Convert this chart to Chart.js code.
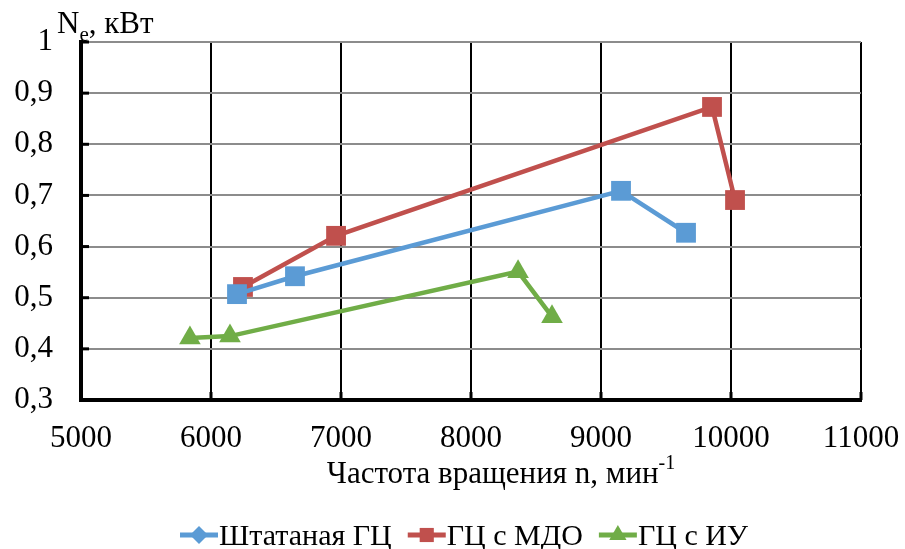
<!DOCTYPE html>
<html>
<head>
<meta charset="utf-8">
<script src="https://cdn.jsdelivr.net/npm/chart.js@4/dist/chart.umd.min.js"></script>
<style>
  html, body { margin: 0; padding: 0; background: #fff; }
  canvas { display: block; }
  .precarga { font-family: "Liberation Serif"; position: absolute; left: -9999px; top: 0; }
</style>
</head>
<body>
<span class="precarga">Частота 0,5</span>
<canvas id="grafica" width="905" height="549"></canvas>
<script>
// частота вращения, мин-1 и мощность, кВт
const nShtatnaya = [6200, 6646, 9154, 9654];
const neShtatnaya = [0.507, 0.542, 0.709, 0.627];

const nMdo = [6246, 6962, 9854, 10031];
const neMdo = [0.521, 0.621, 0.873, 0.691];

const nIu = [5838, 6146, 8362, 8623];
const neIu = [0.421, 0.425, 0.551, 0.463];

const nombres = ['Штатаная ГЦ', 'ГЦ с МДО', 'ГЦ с ИУ'];
const colores = ['#5B9BD5', '#C0504D', '#70AD47'];
const marcadores = ['rect', 'rect', 'triangle'];
const marcadoresLeyenda = ['rectRot', 'rect', 'triangle'];

const FUENTE = '"Liberation Serif", "DejaVu Serif", "Times New Roman", serif';

const puntos = (xs, ys) => xs.map((x, i) => ({ x: x, y: ys[i] }));

const serie = (i, xs, ys) => ({
    label: nombres[i],
    data: puntos(xs, ys),
    borderColor: colores[i],
    backgroundColor: colores[i],
    borderWidth: 4.5,
    pointStyle: marcadores[i],
    pointRadius: marcadores[i] === 'triangle' ? 12.5 : 14,
    pointBorderWidth: 0,
    pointHoverRadius: 14,
    tension: 0
});

// подписи осей с индексами
const titulosEjes = {
    id: 'titulosEjes',
    afterDraw(chart) {
        const ctx = chart.ctx;
        const area = chart.chartArea;
        ctx.save();
        ctx.fillStyle = '#000';
        ctx.textBaseline = 'alphabetic';
        ctx.textAlign = 'left';

        // N_e, кВт
        let x = 57;
        ctx.font = '31px ' + FUENTE;
        ctx.fillText('N', x, 33);
        x += ctx.measureText('N').width;
        ctx.font = '21px ' + FUENTE;
        ctx.fillText('e', x, 41);
        x += ctx.measureText('e').width;
        ctx.font = '31px ' + FUENTE;
        ctx.fillText(', кВт', x, 33);

        // Частота вращения n, мин^-1
        ctx.font = '31px ' + FUENTE;
        const base = 'Частота вращения n, мин';
        const wBase = ctx.measureText(base).width;
        ctx.font = '20px ' + FUENTE;
        const wSup = ctx.measureText('-1').width;
        let xt = 501 - (wBase + wSup) / 2;
        ctx.font = '31px ' + FUENTE;
        ctx.fillText(base, xt, 483);
        ctx.font = '20px ' + FUENTE;
        ctx.fillText('-1', xt + wBase, 469);

        // внутренние засечки на осях
        ctx.strokeStyle = '#000';
        ctx.lineWidth = 3;
        chart.scales.y.ticks.forEach(t => {
            const yy = chart.scales.y.getPixelForValue(t.value);
            ctx.beginPath();
            ctx.moveTo(area.left, yy);
            ctx.lineTo(area.left + 8, yy);
            ctx.stroke();
        });
        chart.scales.x.ticks.forEach(t => {
            const xx = chart.scales.x.getPixelForValue(t.value);
            ctx.beginPath();
            ctx.moveTo(xx, area.bottom);
            ctx.lineTo(xx, area.bottom - 8);
            ctx.stroke();
        });
        ctx.restore();
    }
};

// легенда: линия с маркером и подпись
const leyenda = {
    id: 'leyenda',
    afterDraw(chart) {
        const ctx = chart.ctx;
        ctx.save();
        ctx.font = '30px ' + FUENTE;
        ctx.textBaseline = 'alphabetic';
        ctx.textAlign = 'left';
        const yLinea = 535;
        let x = 180;
        chart.data.datasets.forEach((ds, i) => {
            ctx.strokeStyle = colores[i];
            ctx.lineWidth = 5;
            ctx.beginPath();
            ctx.moveTo(x, yLinea);
            ctx.lineTo(x + 38, yLinea);
            ctx.stroke();
            ctx.fillStyle = colores[i];
            Chart.helpers.drawPoint(ctx, {
                pointStyle: marcadoresLeyenda[i],
                radius: i === 0 ? 9 : 10,
                rotation: 0,
                borderWidth: 0
            }, x + 19, yLinea);
            ctx.fillStyle = '#000';
            ctx.fillText(ds.label, x + 39, 545);
            x += 39 + ctx.measureText(ds.label).width + 16;
        });
        ctx.restore();
    }
};

const crearGrafica = () => new Chart(document.getElementById('grafica'), {
    type: 'line',
    data: {
        datasets: [
            serie(0, nShtatnaya, neShtatnaya),
            serie(1, nMdo, neMdo),
            serie(2, nIu, neIu)
        ]
    },
    options: {
        responsive: false,
        animation: false,
        layout: { padding: { top: 42, right: 44, left: 0, bottom: 0 } },
        plugins: {
            legend: { display: false },
            tooltip: { enabled: false }
        },
        scales: {
            x: {
                type: 'linear',
                min: 5000,
                max: 11000,
                afterFit: s => { s.height = 149; s.paddingLeft = 0; s.paddingRight = 0; },
                ticks: {
                    stepSize: 1000,
                    color: '#000',
                    font: { family: FUENTE, size: 31 },
                    padding: 20,
                    maxRotation: 0,
                    callback: v => String(v)
                },
                grid: { color: '#000', lineWidth: 2, drawTicks: false },
                border: { color: '#000', width: 4 }
            },
            y: {
                min: 0.3,
                max: 1,
                afterFit: s => { s.width = 81; s.paddingTop = 0; s.paddingBottom = 0; },
                ticks: {
                    stepSize: 0.1,
                    color: '#000',
                    font: { family: FUENTE, size: 31 },
                    padding: 28,
                    callback: v => (Math.round(v * 10) / 10).toString().replace('.', ',')
                },
                grid: { color: '#8c8c8c', lineWidth: 2, drawTicks: false },
                border: { color: '#000', width: 4 }
            }
        }
    },
    plugins: [titulosEjes, leyenda]
});

document.fonts.load('30px "Liberation Serif"', 'Частота').then(crearGrafica, crearGrafica);
</script>
</body>
</html>
